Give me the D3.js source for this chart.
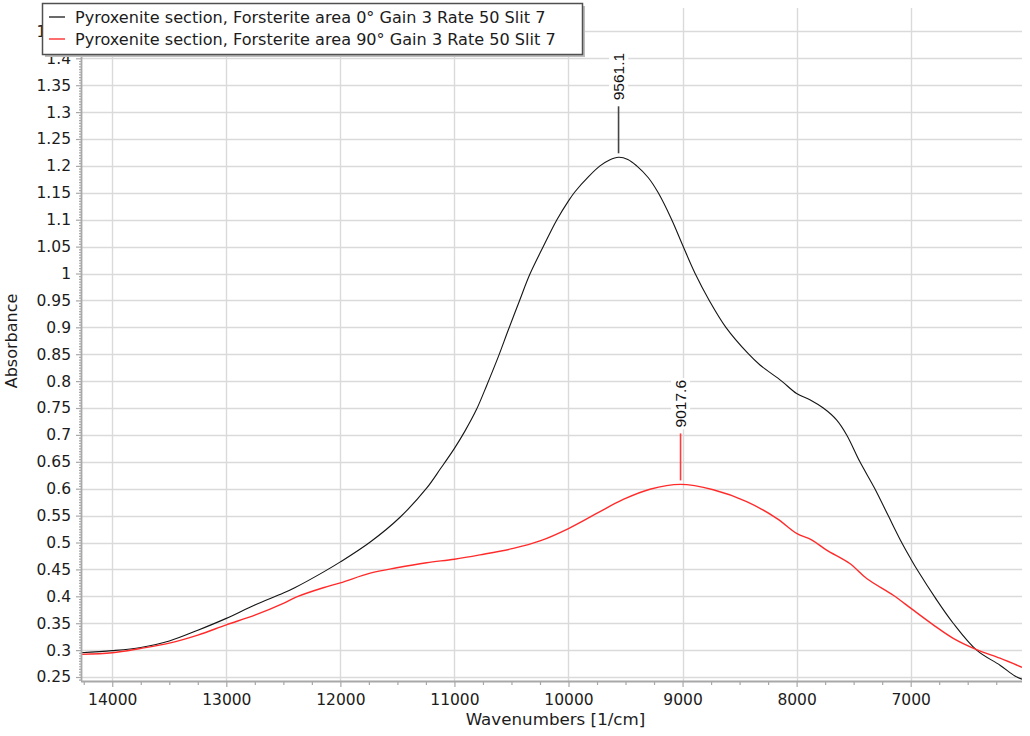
<!DOCTYPE html>
<html>
<head>
<meta charset="utf-8">
<script src="https://cdn.jsdelivr.net/npm/d3@7"></script>
<style>
  html, body { margin: 0; padding: 0; background: #fff; }
  svg { display: block; }
</style>
</head>
<body>
<svg id="chart" width="1030" height="736"></svg>
<script>
// ---------- data ----------
const seriesNames = [
  "Pyroxenite section, Forsterite area 0° Gain 3 Rate 50 Slit 7",
  "Pyroxenite section, Forsterite area 90° Gain 3 Rate 50 Slit 7"
];
const seriesColors = ["#151515", "#ff2b2b"];
const legendColors = ["#6a6a6a", "#ff6e6e"];

// wavenumbers [1/cm] and absorbance, series 0°
const wn0 = [14274, 14000, 13750, 13500, 13250, 13000, 12750, 12500, 12400, 12150, 12000, 11738, 11477, 11244, 11123, 11000,
  10908, 10805, 10717, 10616, 10528, 10432, 10338, 10221, 10104, 10000, 9943, 9820, 9724, 9640, 9561, 9480, 9402, 9300, 9213,
  9095, 9000, 8892, 8766, 8620, 8424, 8321, 8131, 8000, 7880, 7766, 7650, 7561, 7445, 7314, 7197, 7079, 7000, 6933, 6787,
  6627, 6422, 6217, 6086, 6024];
const ab0 = [0.295, 0.299, 0.305, 0.317, 0.337, 0.359, 0.384, 0.406, 0.416, 0.445, 0.464, 0.501, 0.547, 0.601, 0.637, 0.675,
  0.707, 0.748, 0.792, 0.845, 0.895, 0.948, 0.999, 1.050, 1.099, 1.135, 1.152, 1.181, 1.200, 1.211, 1.216, 1.212, 1.200, 1.178, 1.150,
  1.100, 1.053, 1.001, 0.950, 0.900, 0.851, 0.830, 0.800, 0.777, 0.765, 0.750, 0.728, 0.700, 0.650, 0.600, 0.550, 0.500, 0.470, 0.446, 0.398,
  0.350, 0.300, 0.272, 0.252, 0.246];

// series 90°
const wn90 = [14274, 14000, 13756, 13500, 13250, 13000, 12750, 12500, 12383, 12150, 12000, 11738, 11506, 11244, 11000, 10777,
  10484, 10250, 10000, 9753, 9520, 9286, 9018, 8731, 8438, 8175, 8000, 7869, 7737, 7534, 7386, 7153, 7000, 6802, 6627, 6422,
  6217, 6024];
const ab90 = [0.292, 0.295, 0.303, 0.313, 0.328, 0.347, 0.365, 0.387, 0.399, 0.416, 0.425, 0.443, 0.453, 0.4625, 0.469, 0.477,
  0.489, 0.503, 0.526, 0.554, 0.580, 0.599, 0.608, 0.598, 0.576, 0.545, 0.517, 0.505, 0.486, 0.461, 0.433, 0.402, 0.378, 0.347, 0.322, 0.301,
  0.285, 0.268];

const peakPositions = [9561.1, 9017.6];
const peakValues = [1.216, 0.608];
const peakLabels = ["9561.1", "9017.6"];

const xTickValues = [14000, 13000, 12000, 11000, 10000, 9000, 8000, 7000];
const yTickLabels = ["0.25","0.3","0.35","0.4","0.45","0.5","0.55","0.6","0.65","0.7","0.75","0.8","0.85","0.9","0.95","1",
  "1.05","1.1","1.15","1.2","1.25","1.3","1.35","1.4","1.45"];
const xTitle = "Wavenumbers [1/cm]";
const yTitle = "Absorbance";

// ---------- layout ----------
const L = 81, R = 1022, T = 8, B = 681;
const svg = d3.select("#chart");
const font = "'DejaVu Sans', Verdana, sans-serif";

const x = d3.scaleLinear().domain([14274, 6024]).range([L, R]);
const y = d3.scaleLinear().domain([0.2426, 1.4935]).range([B, T]);

const yTickValues = yTickLabels.map(Number);
const xMinor = d3.range(14250, 6000, -250).filter(v => v % 1000 !== 0);
const yMinor = d3.range(0, 250).map(i => +(0.245 + i * 0.005).toFixed(3)).filter(v => v <= 1.49 && Math.round(v * 1000) % 50 !== 0);

// gridlines
const grid = svg.append("g").attr("stroke", "#dadada").attr("stroke-width", 1.4);
grid.selectAll("line.h").data(yTickValues).join("line")
  .attr("x1", L).attr("x2", R).attr("y1", d => Math.round(y(d)) + 0.5).attr("y2", d => Math.round(y(d)) + 0.5);
grid.selectAll("line.v").data(xTickValues).join("line")
  .attr("y1", T).attr("y2", B).attr("x1", d => Math.round(x(d)) + 0.5).attr("x2", d => Math.round(x(d)) + 0.5);

// curves
svg.append("clipPath").attr("id", "plotclip").append("rect")
  .attr("x", L).attr("y", T).attr("width", R - L).attr("height", B - T);
const line = d3.line().x(d => x(d[0])).y(d => y(d[1])).curve(d3.curveCatmullRom.alpha(0.5));
const seriesData = [d3.zip(wn0, ab0), d3.zip(wn90, ab90)];
const curves = svg.append("g").attr("clip-path", "url(#plotclip)");
curves.selectAll("path").data(seriesData).join("path")
  .attr("d", line).attr("fill", "none")
  .attr("stroke", (d, i) => seriesColors[i])
  .attr("stroke-width", (d, i) => i === 0 ? 1.1 : 1.4);

// y axis
const yAxis = svg.append("g").attr("transform", `translate(${L},0)`)
  .call(d3.axisLeft(y).tickValues(yTickValues).tickSize(5).tickPadding(5)
    .tickFormat((d, i) => yTickLabels[i]));
const yMinorAxis = svg.append("g").attr("transform", `translate(${L},0)`)
  .call(d3.axisLeft(y).tickValues(yMinor).tickSize(2).tickFormat(""));
// x axis
const xAxis = svg.append("g").attr("transform", `translate(0,${B})`)
  .call(d3.axisBottom(x).tickValues(xTickValues).tickSize(6).tickPadding(7).tickFormat(d3.format("d")));
const xMinorAxis = svg.append("g").attr("transform", `translate(0,${B})`)
  .call(d3.axisBottom(x).tickValues(xMinor).tickSize(4).tickFormat(""));

[yAxis, yMinorAxis, xAxis, xMinorAxis].forEach(g => {
  g.select(".domain").attr("stroke", "#a8a8a8").attr("stroke-width", 1.8);
  g.selectAll(".tick line").attr("stroke", "#a8a8a8").attr("stroke-width", 1.2);
  g.selectAll("text").attr("font-family", font).attr("font-size", 15.5).attr("fill", "#1c1c1c");
});
yAxis.select(".domain").attr("d", `M0.5,${T}V${B}`);
yMinorAxis.select(".domain").remove();
xMinorAxis.select(".domain").remove();
xAxis.select(".domain").attr("d", `M${L},0.5H${R}`);

// axis titles
svg.append("text").attr("x", 555.5).attr("y", 725).attr("text-anchor", "middle")
  .attr("font-family", font).attr("font-size", 16.7).attr("fill", "#1c1c1c").text(xTitle);
svg.append("text").attr("transform", "translate(17,341) rotate(-90)").attr("text-anchor", "middle")
  .attr("font-family", font).attr("font-size", 16).attr("fill", "#1c1c1c").text(yTitle);

// peak annotations
const ann = svg.append("g");
peakPositions.forEach((p, i) => {
  const px = x(p), py = y(peakValues[i]);
  ann.append("line").attr("x1", px).attr("x2", px).attr("y1", py - 4).attr("y2", py - 51)
    .attr("stroke", i === 0 ? "#444" : "#ff3b3b").attr("stroke-width", 1.6);
  const tg = ann.append("g").attr("transform", `translate(${px},${py - 57}) rotate(-90)`);
  const t = tg.append("text").attr("x", 0).attr("y", 0).attr("dy", "0.36em")
    .attr("font-family", "'Liberation Sans', Arial, sans-serif").attr("font-size", 15.5)
    .attr("fill", "#111").text(peakLabels[i]);
  const bb = t.node().getBBox();
  tg.insert("rect", "text").attr("x", bb.x - 2).attr("y", bb.y - 1).attr("width", bb.width + 4).attr("height", bb.height + 2)
    .attr("fill", "#fff");
});

// legend
const lg = svg.append("g");
lg.append("rect").attr("x", 45).attr("y", 6).attr("width", 540).attr("height", 51).attr("fill", "#bdbdbd");
lg.append("rect").attr("x", 42.5).attr("y", 3.5).attr("width", 540).attr("height", 51)
  .attr("fill", "#fff").attr("stroke", "#505050").attr("stroke-width", 1.5);
seriesNames.forEach((name, i) => {
  const cy = 17 + i * 22;
  lg.append("line").attr("x1", 49).attr("x2", 65).attr("y1", cy).attr("y2", cy)
    .attr("stroke", legendColors[i]).attr("stroke-width", 2);
  lg.append("text").attr("x", 75).attr("y", cy).attr("dy", "0.36em")
    .attr("font-family", font).attr("font-size", 16.1).attr("fill", "#1c1c1c").text(name);
});
</script>
</body>
</html>
